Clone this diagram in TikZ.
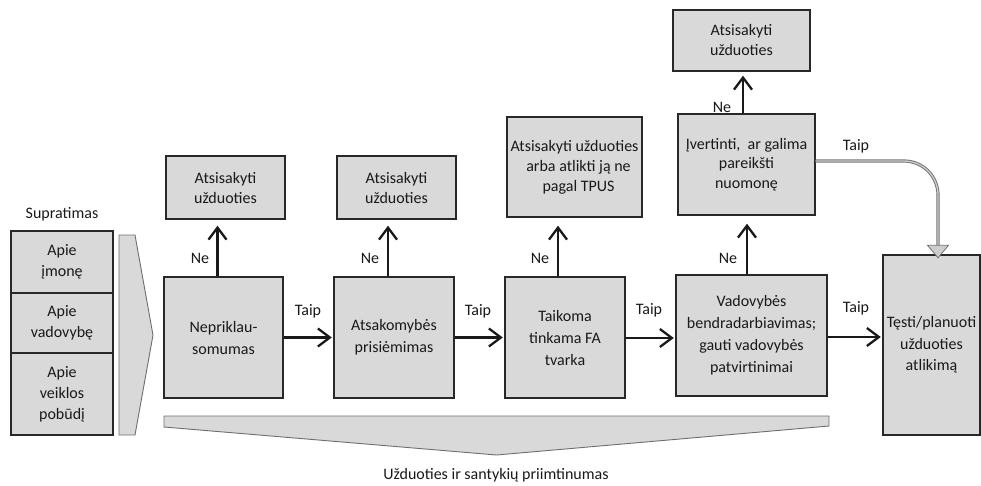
\documentclass[tikz,border=0pt]{standalone}
\usepackage{fontspec}
\setmainfont{Carlito}
\usetikzlibrary{arrows.meta}
\definecolor{boxfill}{RGB}{217,217,217}
\definecolor{boxline}{RGB}{40,40,40}
\definecolor{chevline}{RGB}{110,110,110}
\definecolor{glineout}{RGB}{115,115,115}
\definecolor{glinein}{RGB}{205,205,205}
\definecolor{txt}{RGB}{25,25,25}
\begin{document}
\begin{tikzpicture}[x=1pt,y=-1pt,
  box/.style={draw=boxline, fill=boxfill, line width=1.4pt, align=center, inner sep=0pt,
              text=txt, font=\fontsize{16}{21}\selectfont},
  mainbox/.style={box, minimum width=119pt, minimum height=121pt, font=\fontsize{16}{22}\selectfont},
  topbox/.style={box, font=\fontsize{16}{20}\selectfont},
  arr/.style={line width=2.3pt, draw=txt, -{Straight Barb[length=12pt,width=18pt,line width=2.3pt]}},
  lbl/.style={font=\fontsize{16}{19}\selectfont, inner sep=0pt, text=txt},
  chev/.style={draw=chevline, fill=boxfill, line width=0.9pt}]
\useasboundingbox (0,0) rectangle (981,485);

% left column
\node[lbl] (suplbl) at (62,214) {Supratimas};
\node[box, minimum width=102pt, minimum height=62pt] (sup1) at (62,262) {Apie\\įmonę};
\node[box, minimum width=102pt, minimum height=60pt] (sup2) at (62,323) {Apie\\vadovybę};
\node[box, minimum width=102pt, minimum height=82pt] (sup3) at (62,394) {Apie\\veiklos\\pobūdį};
\draw[chev] (119,235) -- (135,235) -- (153,335) -- (135,435) -- (119,435) -- cycle;

% main row
\node[mainbox] (n1) at (223.5,337.5) {Nepriklau-\\somumas};
\node[mainbox, minimum width=120pt] (n2) at (394,337.5) {Atsakomybės\\prisiėmimas};
\node[mainbox, minimum width=120pt] (n3) at (565,337.5) {Taikoma\\tinkama FA\\tvarka};
\node[mainbox, minimum width=151pt] (n4) at (751.5,335.5) {Vadovybės\\bendradarbiavimas;\\gauti vadovybės\\patvirtinimai};
\node[box, minimum width=97pt, minimum height=180pt, font=\fontsize{16}{21.5}\selectfont] (n5) at (931.5,345) {Tęsti/planuoti\\užduoties\\atlikimą};

% top row
\node[topbox, minimum width=119pt, minimum height=63pt] (t1) at (225.5,187.5) {Atsisakyti\\užduoties};
\node[topbox, minimum width=119pt, minimum height=63pt] (t2) at (396.5,187.5) {Atsisakyti\\užduoties};
\node[topbox, minimum width=135pt, minimum height=100pt] (t3) at (574.5,167) {Atsisakyti užduoties\\\hspace*{8pt}arba atlikti ją ne\\\hspace*{8pt}pagal TPUS};
\node[topbox, minimum width=137pt, minimum height=101pt, font=\fontsize{16}{19.5}\selectfont] (t4) at (746.5,164.5) {Įvertinti, \ ar galima\\pareikšti\\nuomonę};
\node[topbox, minimum width=137pt, minimum height=61pt] (t5) at (741.5,40.5) {Atsisakyti\\užduoties};

% vertical "Ne" arrows
\coordinate (a1) at ([xshift=-6pt]n1.north);
\coordinate (a2) at ([xshift=-6pt]n2.north);
\coordinate (a3) at ([xshift=-7pt]n3.north);
\coordinate (a4) at ([xshift=-4.5pt]n4.north);
\coordinate (a5) at ([xshift=-3.5pt]t4.north);
\draw[arr, shorten >=6pt] (a1) -- (a1 |- t1.south);
\draw[arr, shorten >=6pt] (a2) -- (a2 |- t2.south);
\draw[arr, shorten >=8pt] (a3) -- (a3 |- t3.south);
\draw[arr, shorten >=8pt] (a4) -- (a4 |- t4.south);
\draw[arr, shorten >=4pt] (a5) -- (a5 |- t5.south);

\node[lbl] (ne1) at (200,258) {Ne};
\node[lbl] (ne2) at (370,258) {Ne};
\node[lbl] (ne3) at (540,258) {Ne};
\node[lbl] (ne4) at (728,258) {Ne};
\node[lbl] (ne5) at (722,107) {Ne};

% horizontal "Taip" arrows
\draw[arr, shorten >=1.5pt] (n1.east) -- (n2.west);
\draw[arr, shorten >=1.5pt] (n2.east) -- (n3.west);
\coordinate (h3) at ([yshift=-0.5pt]n3.east);
\draw[arr, shorten >=1.5pt] (h3) -- (h3 -| n4.west);
\coordinate (h4) at ([yshift=-1.5pt]n4.east);
\draw[arr, shorten >=1.5pt] (h4) -- (h4 -| n5.west);

\node[lbl] (ta1) at (308,311) {Taip};
\node[lbl] (ta2) at (478,311) {Taip};
\node[lbl] (ta3) at (649,310) {Taip};
\node[lbl] (ta4) at (856,308) {Taip};
\node[lbl] (ta5) at (856,146) {Taip};

% grey connector
\coordinate (g0) at ([yshift=3.5pt]t4.east);
\coordinate (g1) at ([xshift=6.5pt,yshift=9pt]n5.north);
\draw[line width=3.2pt, glineout, rounded corners=34pt] (g0) -| (g1);
\draw[line width=1.3pt, glinein, rounded corners=34pt] (g0) -| (g1);
\filldraw[fill=glinein, draw=glineout, line width=0.8pt, line join=miter] (g1) ++(-10.5,0) -- ++(21,0) -- ++(-10.5,12.5) -- cycle;

% bottom chevron
\draw[chev] (164,416) -- (829,416) -- (829,426) -- (496.5,455) -- (164,427) -- cycle;
\node[lbl] (acc) at (496,475) {Užduoties ir santykių priimtinumas};
\end{tikzpicture}
\end{document}
